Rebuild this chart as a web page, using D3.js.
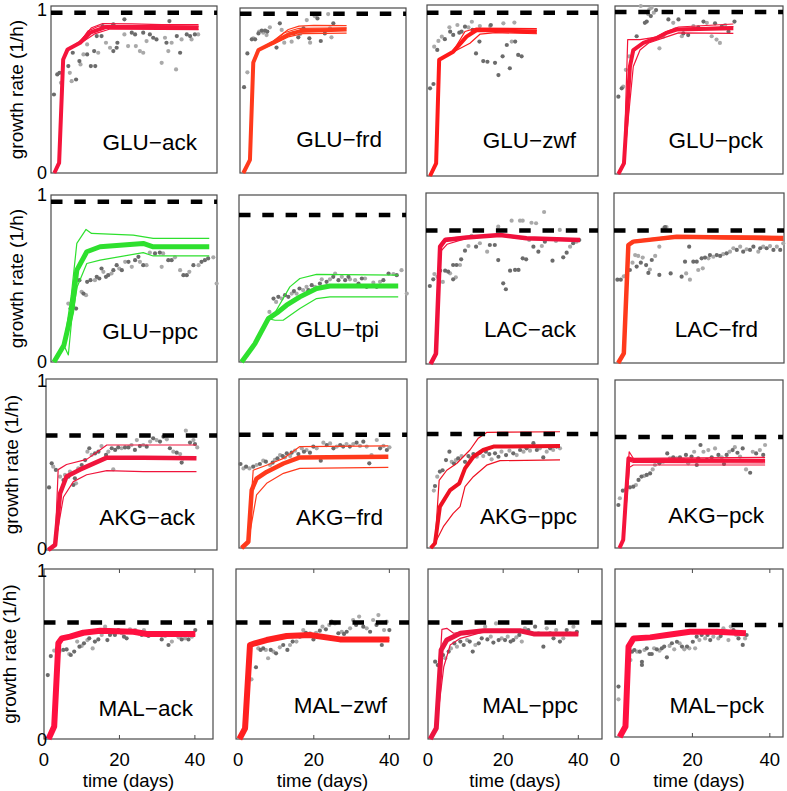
<!DOCTYPE html>
<html><head><meta charset="utf-8">
<script src="https://cdn.jsdelivr.net/npm/d3@7"></script>
<style>body{margin:0;background:#fff} svg{display:block}</style>
</head><body>
<svg id="c" width="787" height="791"></svg>
<script>
// ---------------- DATA ----------------
const panelNames = ["GLU−ack","GLU−frd","GLU−zwf","GLU−pck","GLU−ppc","GLU−tpi","LAC−ack","LAC−frd",
  "AKG−ack","AKG−frd","AKG−ppc","AKG−pck","MAL−ack","MAL−zwf","MAL−ppc","MAL−pck"];
const refRates = [0.96,0.965,0.955,0.964, 0.96,0.88,0.78,0.78, 0.67,0.67,0.675,0.66, 0.686,0.686,0.686,0.667];
const xTickValues = [0,20,40];
const yTickValues = [0,1];
const xAxisTitle = "time (days)";
const yAxisTitle = "growth rate (1/h)";

const meanCurves = [
 [[0.9,0],[2.2,0.06],[3.3,0.68],[4.5,0.74],[7.9,0.78],[10.6,0.84],[15,0.875],[25,0.875],[40,0.87]],
 [[0.9,0],[2.7,0.08],[3.6,0.67],[5.0,0.745],[9.0,0.79],[13.1,0.84],[16.3,0.86],[28.9,0.87]],
 [[0.8,0],[2.4,0.074],[3.2,0.68],[6.9,0.727],[10.4,0.815],[13.1,0.854],[20,0.85],[28.9,0.844]],
 [[0.9,0],[2.4,0.063],[4.0,0.64],[4.9,0.738],[7.6,0.78],[11.2,0.81],[13.8,0.84],[16.5,0.86],[31.7,0.867]],
 [[0.8,0],[3.5,0.10],[5.6,0.30],[7.0,0.55],[9.7,0.66],[13.3,0.69],[25,0.71],[27.7,0.69],[42.9,0.69]],
 [[0.7,0],[4.3,0.11],[7.9,0.26],[10.6,0.30],[12.8,0.34],[16.4,0.39],[20.9,0.44],[24.5,0.455],[42.9,0.455]],
 [[1.2,0],[2.6,0.06],[3.7,0.686],[5.0,0.725],[10.6,0.74],[19.4,0.754],[26.3,0.735],[40.3,0.725]],
 [[1.1,0],[2.6,0.057],[3.8,0.694],[5.1,0.714],[16.6,0.743],[44.8,0.733]],
 [[0.6,0],[2.4,0.03],[3.7,0.33],[5.4,0.43],[8.9,0.47],[16.0,0.54],[25.6,0.54],[39.6,0.536]],
 [[0.7,0],[2.5,0.037],[3.4,0.343],[4.7,0.41],[7.4,0.45],[11.9,0.50],[16.3,0.536],[40.0,0.54]],
 [[1.0,0],[2.1,0.028],[3.4,0.245],[6.1,0.343],[8.5,0.383],[10.0,0.471],[12.2,0.54],[14.8,0.58],[17.5,0.60],[35.0,0.604]],
 [[1.2,0],[2.2,0.048],[3.6,0.534],[4.9,0.524],[40.2,0.52]],
 [[1.2,0],[2.7,0.073],[3.8,0.563],[4.7,0.592],[6.9,0.602],[10.4,0.625],[14.9,0.637],[23.7,0.631],[27.3,0.618],[40.1,0.618]],
 [[0.3,0],[1.8,0.063],[3.1,0.553],[4.4,0.563],[7.5,0.582],[12.8,0.606],[19.0,0.612],[26.9,0.586],[40.0,0.586]],
 [[0.6,0],[2.2,0.063],[3.5,0.524],[5.0,0.582],[8.6,0.622],[14.8,0.637],[24.5,0.637],[28.1,0.618],[40.0,0.618]],
 [[1.2,0],[2.7,0.062],[3.5,0.538],[4.8,0.587],[9.1,0.593],[13.4,0.607],[19.4,0.627],[26.3,0.627],[33.8,0.617]]
];

const thinCurves = [
 [[[0.9,0],[2.2,0.06],[3.3,0.68],[4.5,0.74],[7.9,0.79],[11,0.87],[14,0.895],[22,0.893],[30,0.888],[40,0.888]],
  [[0.9,0],[2.2,0.06],[3.3,0.68],[4.5,0.74],[7.9,0.775],[12,0.835],[16,0.862],[30,0.86],[40,0.858]],
  [[0.9,0],[2.2,0.06],[3.3,0.68],[4.5,0.74],[8,0.785],[10,0.85],[13,0.88],[25,0.883],[40,0.88]]],
 [[[0.9,0],[2.7,0.08],[3.6,0.67],[5.0,0.745],[9,0.80],[13.1,0.87],[16,0.89],[20,0.895],[28.9,0.893]],
  [[0.9,0],[2.7,0.08],[3.6,0.67],[5.0,0.745],[9,0.78],[13.1,0.825],[17,0.845],[28.9,0.848]],
  [[0.9,0],[2.7,0.08],[3.6,0.67],[5.0,0.745],[9,0.795],[12,0.85],[16,0.877],[28.9,0.88]]],
 [[[0.8,0],[2.4,0.074],[3.2,0.68],[6.9,0.73],[10,0.845],[13,0.865],[28.9,0.862]],
  [[0.8,0],[2.4,0.074],[3.2,0.68],[6.9,0.725],[11.3,0.776],[14,0.83],[18,0.838],[28.9,0.832]],
  [[0.8,0],[2.4,0.074],[3.2,0.68],[6.9,0.728],[9.5,0.80],[12,0.85],[28.9,0.853]]],
 [[[0.9,0],[2.4,0.063],[3.4,0.80],[6.7,0.80],[11,0.815],[14,0.85],[17,0.875],[31.7,0.893]],
  [[0.9,0],[2.4,0.063],[4.9,0.64],[6.7,0.738],[9,0.78],[13,0.81],[17,0.84],[31.7,0.837]],
  [[0.9,0],[2.4,0.063],[4.3,0.70],[6,0.76],[10,0.80],[14,0.845],[17,0.865],[31.7,0.877]]],
 [[[0.8,0],[3.5,0.10],[5.5,0.40],[7.0,0.71],[9.5,0.794],[11,0.77],[22.3,0.76],[27.7,0.74],[42.9,0.74]],
  [[0.8,0],[3.5,0.10],[4.7,0.042],[5.6,0.25],[7.1,0.45],[9.7,0.59],[13.3,0.61],[25,0.655],[27.7,0.635],[42.9,0.635]]],
 [[[0.7,0],[4.3,0.11],[7.9,0.27],[9.3,0.28],[13.7,0.45],[16.4,0.50],[20.9,0.525],[42.9,0.52]],
  [[0.7,0],[4.3,0.11],[7.9,0.26],[9.7,0.25],[11.9,0.25],[16.4,0.32],[20.9,0.38],[24.5,0.39],[42.9,0.39]]],
 [[[1.2,0],[2.6,0.06],[3.7,0.70],[5,0.735],[10.6,0.745],[19.4,0.758],[26.3,0.74],[40.3,0.73]],
  [[1.2,0],[2.6,0.06],[3.9,0.66],[5.5,0.70],[10.6,0.735],[19.4,0.75],[26.3,0.728],[40.3,0.72]]],
 [[[1.1,0],[2.6,0.057],[3.8,0.70],[5.1,0.72],[16.6,0.75],[44.8,0.745]],
  [[1.1,0],[2.6,0.057],[3.8,0.69],[5.1,0.71],[16.6,0.738],[44.8,0.722]]],
 [[[0.6,0],[2.4,0.03],[3.2,0.47],[5.4,0.50],[10.7,0.53],[14.2,0.585],[16.0,0.614],[39.6,0.614]],
  [[0.6,0],[2.4,0.03],[4.6,0.31],[7.2,0.40],[10.7,0.44],[16.0,0.464],[25.6,0.458],[39.6,0.458]]],
 [[[0.7,0],[2.5,0.037],[3.8,0.46],[7.4,0.49],[11.9,0.53],[16.3,0.60],[40.0,0.604]],
  [[0.7,0],[2.5,0.037],[4.7,0.314],[7.4,0.383],[11.9,0.442],[16.3,0.471],[40.0,0.477]]],
 [[[1.0,0],[2.1,0.028],[3.2,0.40],[5.2,0.46],[7.8,0.50],[11.3,0.58],[13.5,0.65],[15.7,0.684],[35.0,0.688]],
  [[1.0,0],[2.1,0.028],[4.3,0.126],[6.9,0.205],[8.7,0.245],[10.0,0.363],[12.2,0.422],[15.7,0.49],[19.2,0.517],[35.0,0.521]]],
 [[[1.2,0],[2.2,0.048],[3.8,0.573],[4.9,0.534],[40.2,0.54]],
  [[1.2,0],[2.2,0.048],[3.9,0.48],[4.9,0.494],[40.2,0.494]],
  [[1.2,0],[2.2,0.048],[3.7,0.52],[4.9,0.51],[40.2,0.506]]],
 [[[1.2,0],[2.7,0.073],[3.8,0.57],[4.7,0.60],[6.9,0.608],[10.4,0.632],[14.9,0.643],[23.7,0.637],[27.3,0.625],[40.1,0.625]],
  [[1.2,0],[2.7,0.073],[3.8,0.556],[4.7,0.585],[6.9,0.596],[10.4,0.618],[14.9,0.63],[23.7,0.625],[27.3,0.612],[40.1,0.612]]],
 [[[0.3,0],[1.8,0.063],[3.1,0.56],[4.4,0.57],[7.5,0.59],[12.8,0.612],[19.0,0.618],[26.9,0.592],[40.0,0.592]],
  [[0.3,0],[1.8,0.063],[3.1,0.546],[4.4,0.556],[7.5,0.575],[12.8,0.6],[19.0,0.606],[26.9,0.58],[40.0,0.58]]],
 [[[0.6,0],[2.2,0.063],[3.7,0.645],[5.0,0.651],[6.8,0.622],[8.6,0.628],[14.8,0.64],[24.5,0.64],[28.1,0.622],[40,0.622]],
  [[0.6,0],[2.2,0.063],[4.2,0.425],[5.9,0.553],[8.6,0.592],[14.8,0.63],[24.5,0.632],[28.1,0.612],[40,0.612]]],
 [[[1.2,0],[2.7,0.062],[3.5,0.545],[4.8,0.594],[9.1,0.6],[13.4,0.614],[19.4,0.633],[26.3,0.633],[33.8,0.623]],
  [[1.2,0],[2.7,0.062],[3.5,0.53],[4.8,0.58],[9.1,0.586],[13.4,0.6],[19.4,0.62],[26.3,0.62],[33.8,0.61]]]
];

const darkDots = [
 [[0.8,.47],[1.7,.59],[2.3,.60],[4.7,.64],[5.9,.72],[6.8,.56],[7.7,.67],[9.8,.71],[10.8,.64],[12.0,.64],[11.7,.73],[12.4,.82],[13.7,.82],[14.0,.88],[16.9,.73],[17.8,.75],[18.0,.78],[16.9,.89],[19.9,.92],[21.9,.84],[22.8,.83],[25.0,.84],[26.8,.83],[27.7,.81],[28.6,.80],[31.3,.78],[32.1,.91],[34.1,.82],[35.0,.72],[36.8,.83],[37.7,.82],[39.0,.83]],
 [[1.1,.52],[2.0,.725],[3.2,.81],[4.1,.81],[5.0,.846],[5.9,.863],[6.8,.863],[7.4,.857],[9.9,.76],[10.8,.907],[14.5,.846],[15.8,.822],[17.2,.877],[18.8,.816],[21.0,.937],[21.9,.80],[23.0,.846],[25.3,.907]],
 [[0.8,.513],[1.7,.538],[2.7,.737],[4.7,.80],[6.1,.844],[6.9,.825],[8.5,.838],[9.1,.844],[10.0,.873],[12.0,.854],[12.9,.717],[13.8,.786],[14.8,.672],[15.9,.668],[16.8,.883],[17.9,.662],[18.8,.59],[19.9,.70],[21.0,.766],[21.8,.63],[23.2,.786],[24.0,.708],[24.9,.70]],
 [[0.9,.46],[1.8,.51],[5.8,.82],[8.0,.90],[8.5,.907],[9.6,.94],[11.0,.976],[14.3,.92],[17.0,.92],[18.3,.837],[19.6,.827],[22.3,.873],[23.7,.907],[26.8,.897],[28.6,.877],[30.4,.847],[32.0,.907]],
 [[5.3,.32],[6.8,.32],[7.7,.49],[8.8,.41],[9.8,.48],[10.7,.49],[12.4,.51],[13.1,.50],[13.7,.56],[14.9,.51],[15.5,.52],[16.9,.55],[17.8,.58],[19.2,.55],[21.0,.60],[22.8,.61],[23.7,.63],[25.0,.58],[28.2,.65],[29.5,.655],[31.8,.61],[32.7,.61],[35.9,.52],[36.8,.52],[38.6,.58],[40.8,.60],[41.7,.61],[42.6,.62]],
 [[9.3,.38],[10.6,.39],[12.4,.40],[13.3,.39],[14.8,.425],[16.3,.44],[18.7,.43],[19.6,.46],[21.8,.47],[23.6,.48],[25.4,.51],[26.8,.49],[28.6,.49],[29.5,.51],[32.2,.47],[33.1,.50],[34.4,.45],[37.1,.45],[38.9,.49],[40.3,.53],[42.5,.52]],
 [[1.0,.456],[1.9,.495],[3.7,.546],[5.0,.546],[5.8,.54],[7.1,.495],[7.1,.579],[8.0,.579],[9.2,.612],[10.2,.663],[13.1,.686],[16.7,.696],[18.0,.696],[18.9,.608],[20.2,.472],[20.9,.437],[22.0,.546],[23.3,.55],[24.2,.55],[25.3,.618],[26.2,.612],[28.1,.686],[29.4,.657],[31.1,.715],[33.1,.604],[35.9,.624],[36.8,.651],[38.5,.706],[40.1,.725]],
 [[0.9,.49],[1.8,.49],[3.4,.52],[4.2,.547],[6.0,.567],[7.1,.59],[8.5,.576],[9.1,.53],[10.0,.606],[12.0,.518],[13.5,.80],[15.0,.527],[17.9,.508],[18.8,.596],[19.9,.684],[21.0,.596],[21.9,.596],[23.2,.616],[24.1,.62],[25.4,.635],[27.2,.635],[28.1,.63],[29.8,.645],[32.5,.665],[34.2,.655],[36.0,.665],[36.9,.684],[38.7,.675],[40.4,.675],[42.2,.665],[44.0,.665]],
 [[0.8,.366],[1.5,.507],[2.6,.468],[4.6,.409],[5.9,.429],[7.2,.38],[7.6,.419],[9.4,.497],[10.3,.526],[11.4,.595],[12.9,.565],[13.8,.575],[15.8,.556],[17.3,.595],[18.2,.585],[19.0,.60],[20.8,.60],[21.7,.60],[23.4,.585],[24.7,.608],[26.5,.604],[28.2,.653],[30.0,.634],[30.9,.663],[32.6,.595],[34.4,.569],[35.7,.511],[36.1,.536],[37.9,.628],[39.2,.62]],
 [[0.4,.497],[1.9,.481],[3.8,.481],[5.6,.497],[7.2,.511],[9.0,.505],[10.3,.531],[11.7,.544],[12.8,.56],[14.1,.564],[15.9,.556],[17.4,.57],[19.0,.564],[19.9,.60],[21.9,.517],[23.5,.609],[25.3,.59],[27.1,.609],[27.9,.60],[29.7,.60],[31.5,.623],[33.3,.629],[34.9,.501],[37.8,.59],[39.6,.58]],
 [[2.1,.367],[3.4,.452],[4.1,.46],[5.0,.52],[5.9,.57],[7.1,.50],[8.2,.53],[10.0,.51],[10.9,.544],[12.2,.556],[13.9,.564],[15.5,.57],[16.4,.556],[17.9,.56],[18.8,.54],[20.8,.55],[22.7,.56],[24.5,.58],[26.2,.59],[28.0,.62],[28.9,.58],[30.6,.536],[32.4,.59],[34.1,.60]],
 [[0.9,.256],[2.1,.341],[4.0,.361],[4.9,.365],[6.3,.405],[7.1,.425],[8.5,.435],[9.4,.444],[11.9,.504],[14.0,.563],[15.6,.54],[17.4,.54],[19.0,.554],[20.5,.544],[21.9,.494],[22.3,.534],[22.9,.613],[24.6,.524],[25.9,.54],[27.7,.554],[29.2,.50],[29.9,.554],[31.5,.583],[32.8,.567],[34.2,.593],[36.2,.448],[37.8,.563],[39.7,.554]],
 [[1.0,.376],[1.8,.488],[3.5,.533],[5.1,.524],[6.0,.527],[7.1,.494],[8.0,.514],[9.4,.543],[10.6,.563],[12.0,.592],[13.5,.573],[14.4,.586],[16.8,.582],[17.5,.612],[18.8,.612],[19.7,.641],[21.2,.602],[21.9,.592],[23.5,.631],[25.0,.622],[25.9,.612],[27.7,.606],[29.9,.618],[31.2,.586],[33.0,.553],[34.5,.612],[36.5,.586],[38.3,.586],[40.1,.641]],
 [[4.7,.422],[5.9,.524],[6.6,.533],[8.6,.524],[10.0,.504],[11.9,.553],[13.0,.524],[14.4,.573],[16.3,.602],[17.9,.625],[19.9,.586],[21.6,.637],[23.2,.645],[24.7,.69],[26.5,.622],[28.0,.618],[28.7,.631],[31.2,.671],[33.1,.661],[34.9,.631],[36.6,.671],[38.0,.553],[40.0,.641]],
 [[1.9,.455],[2.6,.435],[4.0,.494],[5.5,.514],[7.0,.563],[8.6,.573],[9.5,.553],[11.1,.573],[11.9,.514],[13.5,.563],[14.3,.592],[15.8,.586],[17.4,.567],[18.8,.582],[20.5,.582],[22.0,.573],[22.7,.582],[24.3,.612],[26.7,.641],[28.5,.661],[30.7,.543],[32.5,.622],[33.4,.592],[35.1,.573],[36.9,.641],[39.6,.631]],
 [[0.9,.30],[4.4,.508],[5.0,.518],[6.4,.508],[6.96,.448],[6.96,.429],[8.2,.528],[8.9,.494],[9.5,.494],[10.8,.522],[12.1,.528],[12.7,.538],[13.4,.474],[14.7,.558],[16.0,.567],[17.3,.538],[18.6,.538],[20.1,.567],[21.1,.597],[22.4,.607],[23.9,.607],[24.6,.577],[26.1,.621],[27.3,.601],[28.7,.627],[30.6,.637],[31.9,.587],[33.0,.548],[34.0,.607]]
];

const lightDots = [
 [[2.7,.54],[5.1,.60],[5.6,.55],[8.0,.65],[8.8,.71],[9.8,.77],[12.8,.72],[14.9,.78],[16.0,.75],[19.9,.83],[20.9,.76],[23.0,.76],[24.1,.73],[25.0,.72],[25.9,.79],[30.0,.66],[30.9,.81],[31.8,.73],[32.7,.78],[33.9,.62],[35.4,.80],[38.1,.80],[39.9,.83]],
 [[2.0,.61],[3.6,.816],[5.2,.857],[6.3,.85],[7.2,.836],[8.1,.883],[11.3,.867],[12.0,.79],[13.1,.97],[14.0,.796],[16.3,.842],[18.1,.927],[19.0,.79],[20.3,.95],[23.9,.963],[24.4,.877],[24.8,.822]],
 [[1.9,.756],[3.0,.79],[3.9,.815],[5.9,.87],[8.0,.883],[10.9,.869],[11.8,.902],[13.9,.877],[16.6,.877],[20.1,.893],[22.3,.786],[23.0,.897]],
 [[2.2,.52],[2.9,.62],[3.8,.70],[6.9,1.0],[8.9,.952],[9.2,.98],[9.8,.99],[10.4,.96],[11.9,.748],[12.9,.817],[15.6,.90],[16.1,.861],[17.9,.82],[21.0,.88],[24.6,.90],[25.9,.82],[27.2,.80],[28.1,.78],[29.5,.887]],
 [[4.7,.35],[6.1,.33],[8.3,.42],[9.5,.40],[11.9,.49],[14.2,.54],[16.4,.53],[18.5,.56],[20.1,.60],[21.9,.57],[24.1,.60],[25.9,.58],[26.8,.655],[30.4,.65],[30.0,.57],[33.6,.627],[35.0,.55],[37.5,.54],[40.0,.58],[44.0,.627],[44.9,.47]],
 [[8.2,.30],[10.0,.36],[11.5,.38],[14.2,.41],[15.5,.41],[17.3,.43],[18.2,.45],[20.5,.45],[22.3,.495],[24.5,.495],[25.9,.53],[27.7,.51],[29.9,.495],[31.3,.49],[33.96,.50],[36.2,.475],[38.0,.48],[41.6,.527],[43.8,.55],[45.2,.41]],
 [[2.2,.526],[3.0,.51],[4.4,.48],[6.3,.53],[7.8,.507],[8.9,.579],[11.1,.69],[11.9,.749],[14.1,.706],[16.0,.657],[18.9,.803],[22.4,.838],[24.6,.838],[25.3,.838],[27.0,.725],[27.6,.826],[28.8,.823],[30.3,.69],[30.9,.889],[34.0,.72],[35.0,.784],[37.7,.686],[39.4,.715]],
 [[2.6,.51],[4.9,.59],[5.6,.635],[6.4,.63],[7.6,.62],[9.5,.55],[10.9,.63],[12.0,.684],[13.1,.792],[13.9,.80],[19.1,.527],[20.1,.49],[22.3,.547],[23.5,.557],[25.0,.616],[26.3,.625],[28.9,.64],[30.7,.655],[31.6,.675],[33.4,.684],[35.1,.669],[38.2,.655],[39.5,.684],[41.3,.688],[43.1,.684],[44.8,.704]],
 [[1.9,.487],[3.7,.429],[5.0,.439],[6.3,.458],[7.9,.39],[8.5,.478],[10.9,.575],[12.0,.556],[14.6,.608],[16.4,.575],[17.7,.472],[19.9,.595],[22.5,.614],[23.9,.643],[25.6,.614],[27.4,.634],[29.1,.643],[31.8,.647],[33.5,.575],[35.3,.561],[36.8,.698],[38.8,.643],[39.8,.60]],
 [[1.2,.471],[2.8,.471],[4.7,.491],[6.5,.517],[8.3,.491],[9.6,.521],[11.0,.55],[12.3,.536],[13.7,.544],[15.0,.576],[16.8,.59],[18.1,.58],[20.8,.59],[22.6,.623],[24.4,.619],[26.2,.60],[28.8,.615],[30.6,.615],[32.4,.604],[34.2,.60],[35.5,.55],[36.9,.639],[38.7,.604],[40.3,.596]],
 [[1.8,.34],[2.7,.422],[6.5,.51],[7.6,.52],[9.1,.544],[11.5,.53],[13.1,.54],[14.8,.544],[17.0,.525],[19.6,.57],[21.7,.576],[23.6,.55],[25.4,.57],[27.1,.576],[29.7,.59],[31.5,.57],[33.2,.58],[35.0,.59]],
 [[1.3,.296],[2.9,.349],[5.6,.375],[7.8,.429],[10.1,.468],[10.7,.494],[12.9,.514],[14.7,.534],[16.5,.534],[18.3,.524],[19.6,.504],[21.2,.573],[23.7,.573],[25.0,.583],[26.8,.593],[28.6,.54],[30.6,.573],[32.1,.60],[33.5,.544],[35.1,.468],[36.9,.573],[38.8,.583],[40.2,.613]],
 [[2.7,.52],[4.1,.514],[6.7,.50],[8.8,.573],[10.0,.547],[11.5,.582],[12.9,.533],[15.3,.612],[16.2,.661],[18.2,.625],[20.6,.622],[22.8,.645],[24.2,.641],[26.5,.641],[28.6,.622],[32.1,.606],[33.9,.573],[35.7,.598],[37.4,.592],[39.2,.602]],
 [[3.5,.351],[5.3,.533],[7.3,.524],[7.9,.475],[9.3,.514],[11.0,.539],[13.7,.553],[15.4,.573],[17.2,.641],[19.0,.622],[20.6,.625],[22.3,.661],[24.1,.671],[25.6,.68],[27.4,.631],[29.6,.651],[30.4,.70],[32.0,.72],[34.0,.651],[35.7,.70],[37.1,.729],[38.6,.641],[39.3,.69]],
 [[3.3,.445],[4.6,.475],[6.1,.533],[7.7,.543],[10.4,.582],[12.6,.553],[15.2,.661],[16.7,.602],[18.1,.68],[19.6,.592],[21.2,.602],[23.5,.598],[24.96,.573],[25.8,.651],[27.6,.622],[29.4,.622],[31.6,.651],[34.1,.641],[36.0,.592],[37.8,.622],[38.7,.661]],
 [[0.9,.224],[4.0,.458],[5.7,.508],[7.6,.518],[10.1,.528],[11.5,.514],[14.1,.542],[15.3,.522],[16.7,.558],[17.9,.522],[19.2,.528],[20.7,.528],[21.8,.577],[23.3,.587],[25.4,.597],[26.7,.587],[28.0,.647],[29.3,.577],[29.9,.657],[31.3,.607],[32.3,.617],[33.6,.587]]
];

// ---------------- LAYOUT & STYLE ----------------
const panelBoxes = [
 [51,6,217,173],[240,8,406,173],[427,5,598,176],[615,6,783,174],
 [51,195,217,362],[239,195,406,362],[426,193,598,364],[614,193,784,363],
 [46,379,217,550],[239,379,407,548],[427,379,598,548],[615,380,783,548],
 [44,569,213,739],[236,569,409,739],[428,569,602,739],[615,569,783,737]
];
const xDomains = [
 [0,45],[0,45],[0,45],[0,45],[0,45],[0,45],[0,45],[0,45],
 [0,45],[0,45],[0,45],[0,45],[0,44.8],[-0.6,45.2],[0,46.3],[0,43.4]
];
const lineColors = ["#f5143c","#ff3a1c","#ff1a1a","#f51438","#2ee02e","#2ee02e","#f0103c","#ff3a1c",
  "#f0143c","#ff3a1c","#ee1122","#f5143c","#ff1040","#ff2020","#ec1440","#ff1040"];
const thickWidths = [4,4,4,4,5,5,4.5,4.5,4.5,4.5,4,4,6,6,5,6];
const labelPos = [
 [197,150],[382,147],[576,148],[763,148],
 [198,339],[379,337],[576,337],[758,337],
 [195,525],[383,525],[577,524],[764,523],
 [193,716],[387,713],[578,713],[764,713]
];
const rowTickY = [[9.5,173],[195,362],[381,549],[571,740]];
const rowTitleX = [22.5,22.5,17.5,16];
const FONT = "'Liberation Sans', Arial, Helvetica, sans-serif";

const svg = d3.select("#c");
const line = d3.line();

panelNames.forEach((name, i) => {
  const [x0,y0,x1,y1] = panelBoxes[i];
  const row = Math.floor(i/4), col = i%4;
  const x = d3.scaleLinear().domain(xDomains[i]).range([x0,x1]);
  const y = d3.scaleLinear().domain([0,1]).range([y1,y0]);
  line.x(d => x(d[0])).y(d => y(d[1]));
  const g = svg.append("g");

  g.append("rect").attr("x",x0).attr("y",y0).attr("width",x1-x0).attr("height",y1-y0)
    .attr("fill","#fff").attr("stroke","#4a4a4a").attr("stroke-width",1.2);

  g.selectAll("circle.l").data(lightDots[i]).join("circle").attr("class","l")
    .attr("cx",d=>x(d[0])).attr("cy",d=>y(d[1])).attr("r",2.1).attr("fill","#a9a9a9");
  g.selectAll("circle.d").data(darkDots[i]).join("circle").attr("class","d")
    .attr("cx",d=>x(d[0])).attr("cy",d=>y(d[1])).attr("r",2.1).attr("fill","#6b6b6b");

  thinCurves[i].forEach(c => {
    g.append("path").attr("d", line(c)).attr("fill","none")
      .attr("stroke", lineColors[i]).attr("stroke-width",1.2).attr("stroke-linejoin","round");
  });
  g.append("path").attr("d", line(meanCurves[i])).attr("fill","none")
    .attr("stroke", lineColors[i]).attr("stroke-width",thickWidths[i]).attr("stroke-linejoin","round");

  g.append("line").attr("x1",x0).attr("x2",x1).attr("y1",y(refRates[i])).attr("y2",y(refRates[i]))
    .attr("stroke","#000").attr("stroke-width",4.5).attr("stroke-dasharray","11.5,11.8");

  g.append("text").attr("x",labelPos[i][0]).attr("y",labelPos[i][1]).attr("text-anchor","end")
    .attr("font-family",FONT).attr("font-size",22.5).attr("fill","#000").text(name);

  if (col === 0) {
    g.append("text").attr("x",47).attr("y",rowTickY[row][1]).attr("dy","0.34em").attr("text-anchor","end")
      .attr("font-family",FONT).attr("font-size",18).text(yTickValues[0]);
    g.append("text").attr("x",47).attr("y",rowTickY[row][0]).attr("dy","0.34em").attr("text-anchor","end")
      .attr("font-family",FONT).attr("font-size",18).text(yTickValues[1]);
    g.append("text").attr("transform",`translate(${rowTitleX[row]},${(y0+y1)/2}) rotate(-90)`)
      .attr("text-anchor","middle").attr("font-family",FONT).attr("font-size",19).text(yAxisTitle);
  }
  if (row === 3) {
    xTickValues.forEach(v => {
      g.append("text").attr("x",x(v)).attr("y",766).attr("text-anchor","middle")
        .attr("font-family",FONT).attr("font-size",18.5).text(v);
      if (v > 0) {
        g.append("line").attr("x1",x(v)).attr("x2",x(v)).attr("y1",y0).attr("y2",y0+4)
          .attr("stroke","#4a4a4a").attr("stroke-width",1);
        g.append("line").attr("x1",x(v)).attr("x2",x(v)).attr("y1",y1).attr("y2",y1-4)
          .attr("stroke","#4a4a4a").attr("stroke-width",1);
      }
    });
    g.append("text").attr("x",(x0+x1)/2).attr("y",787).attr("text-anchor","middle")
      .attr("font-family",FONT).attr("font-size",18.5).text(xAxisTitle);
  }
});
</script>
</body></html>
